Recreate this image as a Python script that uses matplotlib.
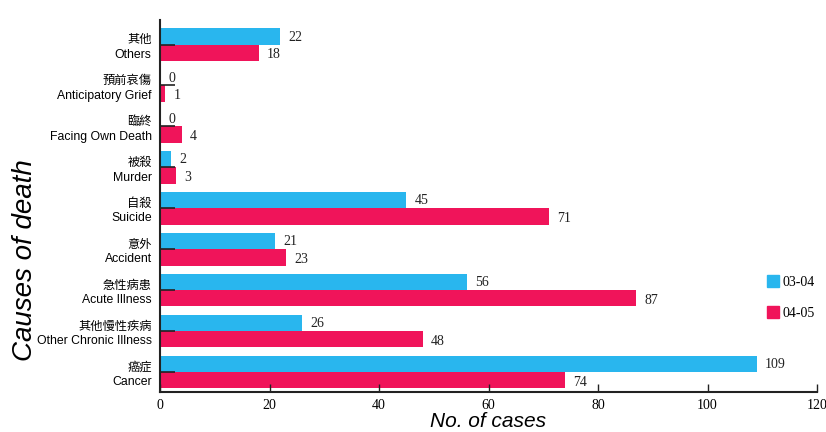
import numpy as np
import matplotlib.pyplot as plt
from matplotlib.lines import Line2D

# 死因類別 (上到下)
causes_zh = ["其他", "預前哀傷", "臨終", "被殺", "自殺", "意外", "急性病患", "其他慢性疾病", "癌症"]
causes_en = ["Others", "Anticipatory Grief", "Facing Own Death", "Murder", "Suicide",
             "Accident", "Acute Illness", "Other Chronic Illness", "Cancer"]
cases_0304 = [22, 0, 0, 2, 45, 21, 56, 26, 109]
cases_0405 = [18, 1, 4, 3, 71, 23, 87, 48, 74]
years = ["03-04", "04-05"]

blue = "#29B6EE"
red = "#F0145A"

fig = plt.figure(figsize=(8.26, 4.32), dpi=100)
ax = fig.add_axes([160/826, 40/432, 657/826, 372/432])

n = len(causes_en)
y = np.arange(n)
h = 0.4
ax.barh(y - h/2, cases_0304, height=h, color=blue, zorder=1)
ax.barh(y + h/2, cases_0405, height=h, color=red, zorder=1)

for i in range(n):
    ax.text(cases_0304[i] + 1.5, y[i] - h/2 + 0.02, str(cases_0304[i]), va="center", ha="left",
            family="Liberation Serif", fontsize=10, color="#222222")
    ax.text(cases_0405[i] + 1.5, y[i] + h/2 + 0.05, str(cases_0405[i]), va="center", ha="left",
            family="Liberation Serif", fontsize=10, color="#222222")

ax.set_xlim(0, 120)
ax.set_ylim(n - 1 + 0.49, -0.6)
ax.set_xticks(np.arange(0, 121, 20))
ax.set_xticklabels([str(v) for v in range(0, 121, 20)], family="Liberation Serif", fontsize=10)
ax.set_yticks(y)
ax.set_yticklabels([zh + "\n" + en for zh, en in zip(causes_zh, causes_en)],
                   family=["Liberation Sans", "Noto Sans CJK TC"], fontsize=8.8, linespacing=1.3)
ax.tick_params(axis="y", direction="in", length=11, width=1.2, color="#222222", pad=6)
ax.tick_params(axis="x", direction="in", length=6, width=1, color="#222222", pad=5)

for s in ["top", "right"]:
    ax.spines[s].set_visible(False)
for s in ["left", "bottom"]:
    ax.spines[s].set_linewidth(1.5)
    ax.spines[s].set_color("#222222")

ax.set_xlabel("No. of cases", fontstyle="italic", family="Liberation Sans", fontsize=15, labelpad=0)
ax.set_ylabel("Causes of death", fontstyle="italic", family="Liberation Sans", fontsize=20)
ax.yaxis.set_label_coords(-0.185, 0.355)

handles = [Line2D([], [], marker="s", linestyle="none", color=blue, markersize=8),
           Line2D([], [], marker="s", linestyle="none", color=red, markersize=8)]
leg = ax.legend(handles, years, loc="upper left", bbox_to_anchor=(0.905, 0.345), frameon=False,
                handlelength=0.8, handletextpad=0.3, labelspacing=1.3,
                prop={"family": "Liberation Serif", "size": 10})

fig.savefig("out.png", dpi=100)
